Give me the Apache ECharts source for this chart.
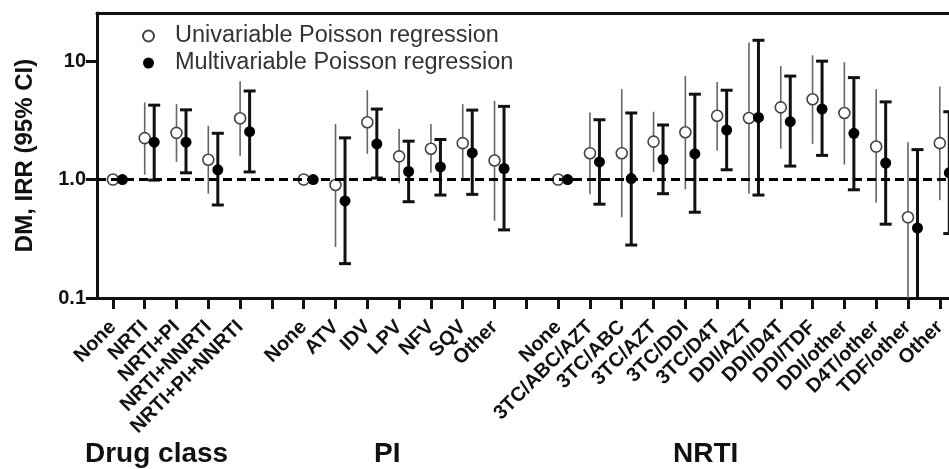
<!DOCTYPE html>
<html>
<head>
<meta charset="utf-8">
<script src="https://cdn.jsdelivr.net/npm/echarts@6/dist/echarts.min.js"></script>
<style>
html,body{margin:0;padding:0;background:#fff;}
#chart{width:949px;height:469px;}
</style>
</head>
<body>
<div id="chart"></div>
<script>
// ---- data ----
const categories = ['None','NRTI','NRTI+PI','NRTI+NNRTI','NRTI+PI+NNRTI','',
  'None','ATV','IDV','LPV','NFV','SQV','Other','',
  'None','3TC/ABC/AZT','3TC/ABC','3TC/AZT','3TC/DDI','3TC/D4T','DDI/AZT','DDI/D4T','DDI/TDF','DDI/other','D4T/other','TDF/other','Other'];
const uniIRR   = [1.0, 2.24, 2.48, 1.47, 3.29, null, 1.0, 0.90, 3.05, 1.57, 1.82, 2.03, 1.45, null, 1.0, 1.67, 1.67, 2.09, 2.51, 3.46, 3.31, 4.07, 4.77, 3.65, 1.90, 0.48, 2.03];
const uniLow   = [null, 1.10, 1.41, 0.76, 1.58, null, null, 0.27, 1.65, 0.93, 1.14, 0.99, 0.45, null, null, 0.75, 0.48, 1.16, 0.83, 1.76, 0.76, 1.82, 2.00, 1.34, 0.64, 0.06, 0.67];
const uniHigh  = [null, 4.48, 4.33, 2.85, 6.76, null, null, 2.95, 5.68, 2.68, 2.95, 4.33, 4.62, null, null, 3.69, 5.79, 3.74, 7.48, 6.67, 14.4, 9.08, 11.2, 9.80, 5.79, 2.07, 6.10];
const multiIRR = [1.0, 2.07, 2.07, 1.21, 2.54, null, 1.0, 0.66, 2.00, 1.17, 1.28, 1.68, 1.24, null, 1.0, 1.41, 1.02, 1.48, 1.65, 2.62, 3.35, 3.08, 3.94, 2.46, 1.38, 0.39, 1.14];
const multiLow = [null, 0.99, 1.14, 0.61, 1.16, null, null, 0.195, 1.03, 0.65, 0.74, 0.75, 0.376, null, null, 0.62, 0.28, 0.76, 0.53, 1.21, 0.74, 1.30, 1.60, 0.82, 0.42, 0.06, 0.35];
const multiHigh= [null, 4.25, 3.88, 2.46, 5.60, null, null, 2.25, 3.94, 2.11, 2.18, 3.86, 4.15, null, null, 3.20, 3.65, 2.89, 5.26, 5.68, 15.0, 7.48, 10.0, 7.26, 4.53, 1.79, 3.74];
const yTicks = [0.1, 1, 10];
const groupLabels = ['Drug class', 'PI', 'NRTI'];
const seriesNames = ['Univariable Poisson regression', 'Multivariable Poisson regression'];

// ---- build ----
const FONT = "'Liberation Sans', Arial, Helvetica, sans-serif";
const MULTI_DX = 9.5;
const xTicks = categories.map((c, i) => i);
// visible part of the (cropped) category axis: the plot continues past the right edge
const X_MIN = -0.5, X_MAX = 26.29;
function pts(arr){ const o=[]; arr.forEach((v,i)=>{ if(v!=null) o.push([i,v]); }); return o; }
function bars(lo,hi){ const o=[]; lo.forEach((v,i)=>{ if(v!=null && hi[i]!=null) o.push([i,v,hi[i]]); }); return o; }

function errRender(dx, color, width, cap){
  return function(params, api){
    const cs = params.coordSys;
    const yBottom = cs.y + cs.height, yTop = cs.y;
    const x = api.value(0);
    const a = api.coord([x, api.value(1)]);
    const b = api.coord([x, api.value(2)]);
    const px = a[0] + dx;
    const y1 = Math.min(a[1], yBottom), y2 = Math.max(b[1], yTop);
    const st = {stroke: color, lineWidth: width};
    const children = [{type:'line', shape:{x1:px,y1:y1,x2:px,y2:y2}, style:st}];
    if (cap > 0) {
      if (a[1] <= yBottom) children.push({type:'line', shape:{x1:px-cap,y1:a[1],x2:px+cap,y2:a[1]}, style:st});
      if (b[1] >= yTop) children.push({type:'line', shape:{x1:px-cap,y1:b[1],x2:px+cap,y2:b[1]}, style:st});
    }
    return {type:'group', children: children};
  };
}

const chart = echarts.init(document.getElementById('chart'), null, {renderer:'canvas'});
const option = {
  backgroundColor: '#fff',
  animation: false,
  textStyle: {fontFamily: FONT},
  grid: {left: 97, top: 13, right: 0, bottom: 171, show: false, containLabel: false},
  legend: {
    data: seriesNames,
    orient: 'vertical',
    left: 137, top: 19,
    itemWidth: 11, itemHeight: 11, itemGap: 3,
    textStyle: {fontSize: 23.5, color: '#333', fontFamily: FONT, padding: [0,0,0,16]},
    selectedMode: false
  },
  xAxis: [{
    type: 'value',
    min: X_MIN, max: X_MAX,
    axisLine: {show: true, onZero: false, lineStyle: {color: '#111', width: 3}},
    axisTick: {show: true, length: 11, lineStyle: {color: '#111', width: 3}, customValues: xTicks},
    axisLabel: {rotate: 45, margin: 26, fontSize: 20, fontWeight: 'bold', color: '#111', fontFamily: FONT,
      customValues: xTicks, showMinLabel: true, showMaxLabel: true,
      formatter: function(v){ return categories[Math.round(v)] || ''; }},
    splitLine: {show: false}
  }, {
    type: 'value', position: 'top',
    min: X_MIN, max: X_MAX,
    axisLine: {show: true, onZero: false, lineStyle: {color: '#111', width: 3}},
    axisTick: {show: false}, axisLabel: {show: false}, splitLine: {show: false}
  }],
  yAxis: {
    type: 'log',
    logBase: 10,
    min: 0.1,
    max: 25.5,
    position: 'left',
    name: 'DM, IRR (95% CI)',
    nameLocation: 'middle',
    nameGap: 60,
    nameRotate: 90,
    nameTextStyle: {fontSize: 24, fontWeight: 'bold', color: '#111', fontFamily: FONT},
    axisLine: {show: true, onZero: false, lineStyle: {color: '#111', width: 3}},
    axisTick: {show: true, length: 11, lineStyle: {color: '#111', width: 3}, customValues: yTicks},
    axisLabel: {fontSize: 20, fontWeight: 'bold', color: '#111', margin: 11, fontFamily: FONT,
      customValues: yTicks,
      formatter: function(v){ return v >= 5 ? '10' : (v >= 0.5 ? '1.0' : '0.1'); }},
    splitLine: {show: false},
    minorTick: {show: false}
  },
  series: [
    {
      type: 'custom', name: 'uniCI', silent: true, clip: false, z: 2,
      renderItem: errRender(0, '#666', 1.6, 0),
      data: bars(uniLow, uniHigh)
    },
    {
      type: 'custom', name: 'multiCI', silent: true, clip: false, z: 2,
      renderItem: errRender(MULTI_DX, '#111', 3, 6),
      data: bars(multiLow, multiHigh)
    },
    {
      type: 'scatter', name: seriesNames[0], z: 3, clip: false,
      symbol: 'circle', symbolSize: 11,
      itemStyle: {color: '#fff', borderColor: '#444', borderWidth: 1.6, opacity: 1},
      data: pts(uniIRR)
    },
    {
      type: 'scatter', name: seriesNames[1], z: 4, clip: false,
      symbol: 'circle', symbolSize: 11, symbolOffset: [MULTI_DX, 0],
      itemStyle: {color: '#000', opacity: 1},
      data: pts(multiIRR),
      markLine: {
        silent: true, symbol: ['none','none'], z: 5,
        label: {show: false},
        lineStyle: {color: '#000', width: 3, type: [9,5]},
        data: [{yAxis: 1}]
      }
    }
  ],
  graphic: [
    {type:'text', left: 85, top: 440, style:{text: groupLabels[0], font: "bold 28px " + FONT, fill:'#111'}},
    {type:'text', left: 374, top: 440, style:{text: groupLabels[1], font: "bold 28px " + FONT, fill:'#111'}},
    {type:'text', left: 673, top: 440, style:{text: groupLabels[2], font: "bold 28px " + FONT, fill:'#111'}}
  ]
};
chart.setOption(option);
</script>
</body>
</html>
